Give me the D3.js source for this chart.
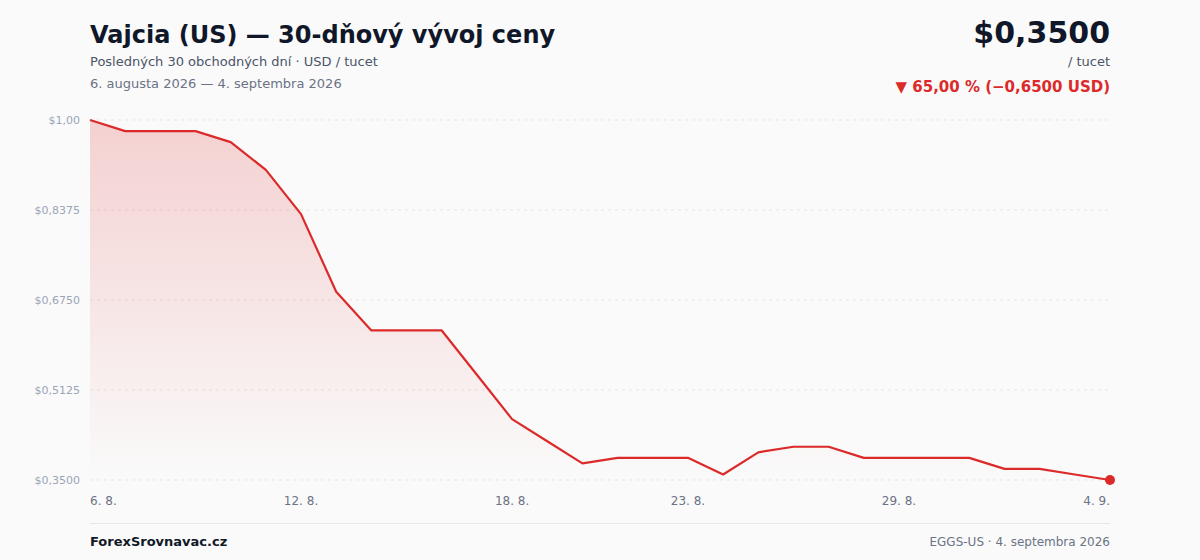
<!DOCTYPE html>
<html>
<head>
<meta charset="utf-8">
<script src="https://cdn.jsdelivr.net/npm/d3@7"></script>
<style>
  html, body { margin: 0; padding: 0; background: #fafafa; }
  svg { display: block; font-family: "DejaVu Sans", sans-serif; }
</style>
</head>
<body>
<svg id="vis" width="1200" height="560"></svg>
<script>
// days shown on the x axis (6. 8. 2026 - 4. 9. 2026)
var days = ["6. 8.","7. 8.","8. 8.","9. 8.","10. 8.","11. 8.","12. 8.","13. 8.","14. 8.","15. 8.",
            "16. 8.","17. 8.","18. 8.","19. 8.","20. 8.","21. 8.","22. 8.","23. 8.","24. 8.","25. 8.",
            "26. 8.","27. 8.","28. 8.","29. 8.","30. 8.","31. 8.","1. 9.","2. 9.","3. 9.","4. 9."];

// price USD / dozen
var prices = [1.00, 0.98, 0.98, 0.98, 0.96, 0.91, 0.83, 0.69, 0.62, 0.62,
              0.62, 0.54, 0.46, 0.42, 0.38, 0.39, 0.39, 0.39, 0.36, 0.40,
              0.41, 0.41, 0.39, 0.39, 0.39, 0.39, 0.37, 0.37, 0.36, 0.35];

var xTickDays = ["6. 8.", "12. 8.", "18. 8.", "23. 8.", "29. 8.", "4. 9."];
var yTicks = [1.00, 0.8375, 0.675, 0.5125, 0.35];
var yTickLabels = ["$1,00", "$0,8375", "$0,6750", "$0,5125", "$0,3500"];

var margin = {t: 120, r: 90, b: 80, l: 90};
var W = 1200, H = 560;
var red = "#dc2a2a";

var svg = d3.select('#vis');
var data = days.map(function (d, i) { return {day: d, value: prices[i]}; });

var x = d3.scalePoint().domain(days).range([margin.l, W - margin.r]);
var y = d3.scaleLinear().domain([0.35, 1.00]).range([H - margin.b, margin.t]);

// gradient for the area under the line
var defs = svg.append('defs');
var grad = defs.append('linearGradient')
    .attr('id', 'areaFill')
    .attr('gradientUnits', 'userSpaceOnUse')
    .attr('x1', 0).attr('x2', 0)
    .attr('y1', y(1.00)).attr('y2', y(0.35));
grad.append('stop').attr('offset', '0%').attr('stop-color', red).attr('stop-opacity', 0.2);
grad.append('stop').attr('offset', '100%').attr('stop-color', red).attr('stop-opacity', 0.0);

// gridlines + y labels
var grid = svg.append('g').attr('class', 'grid');
grid.selectAll('line')
    .data(yTicks)
    .enter().append('line')
    .attr('x1', margin.l)
    .attr('x2', W - margin.r)
    .attr('y1', function (d) { return y(d); })
    .attr('y2', function (d) { return y(d); })
    .attr('stroke', '#e3e5e9')
    .attr('stroke-width', 1)
    .attr('stroke-dasharray', '3,4');

grid.selectAll('text')
    .data(yTicks)
    .enter().append('text')
    .attr('x', margin.l - 10)
    .attr('y', function (d) { return y(d); })
    .attr('dy', '0.35em')
    .style('text-anchor', 'end')
    .style('font-size', '11px')
    .attr('fill', '#9aa5b8')
    .text(function (d, i) { return yTickLabels[i]; });

// area + line
var area = d3.area()
    .x(function (d) { return x(d.day); })
    .y0(y(0.35))
    .y1(function (d) { return y(d.value); });

var line = d3.line()
    .x(function (d) { return x(d.day); })
    .y(function (d) { return y(d.value); });

svg.append('path')
    .datum(data)
    .attr('d', area)
    .attr('fill', 'url(#areaFill)');

svg.append('path')
    .datum(data)
    .attr('d', line)
    .attr('fill', 'none')
    .attr('stroke', red)
    .attr('stroke-width', 2.2)
    .attr('stroke-linejoin', 'round');

var last = data[data.length - 1];
svg.append('circle')
    .attr('cx', x(last.day))
    .attr('cy', y(last.value))
    .attr('r', 5)
    .attr('fill', red);

// x labels
svg.append('g').selectAll('text')
    .data(xTickDays)
    .enter().append('text')
    .attr('x', function (d) { return x(d); })
    .attr('y', 505)
    .style('font-size', '12px')
    .attr('fill', '#6b7385')
    .style('text-anchor', function (d, i) {
        if (i == 0) return 'start';
        else if (i == xTickDays.length - 1) return 'end';
        return 'middle';
    })
    .text(function (d) { return d; });

// header
svg.append('text')
    .attr('x', 90).attr('y', 43)
    .style('font-size', '24px')
    .style('font-weight', 'bold')
    .attr('fill', '#0f1729')
    .text('Vajcia (US) — 30-dňový vývoj ceny');

svg.append('text')
    .attr('x', 90).attr('y', 66)
    .style('font-size', '13px')
    .attr('fill', '#4a5568')
    .text('Posledných 30 obchodných dní · USD / tucet');

svg.append('text')
    .attr('x', 90).attr('y', 88)
    .style('font-size', '13px')
    .attr('fill', '#6b7385')
    .text('6. augusta 2026 — 4. septembra 2026');

svg.append('text')
    .attr('x', 1110).attr('y', 43)
    .style('font-size', '30px')
    .style('font-weight', 'bold')
    .style('text-anchor', 'end')
    .attr('fill', '#0f1729')
    .text('$0,3500');

svg.append('text')
    .attr('x', 1110).attr('y', 66)
    .style('font-size', '13px')
    .style('text-anchor', 'end')
    .attr('fill', '#4a5568')
    .text('/ tucet');

svg.append('text')
    .attr('x', 1110).attr('y', 92)
    .style('font-size', '15px')
    .style('font-weight', 'bold')
    .style('text-anchor', 'end')
    .attr('fill', red)
    .text('▼ 65,00 % (−0,6500 USD)');

// footer
svg.append('line')
    .attr('x1', 90).attr('x2', 1110)
    .attr('y1', 523.5).attr('y2', 523.5)
    .attr('stroke', '#e6e8ec')
    .attr('stroke-width', 1);

svg.append('text')
    .attr('x', 90).attr('y', 546)
    .style('font-size', '13px')
    .style('font-weight', 'bold')
    .attr('fill', '#111827')
    .text('ForexSrovnavac.cz');

svg.append('text')
    .attr('x', 1110).attr('y', 546)
    .style('font-size', '12px')
    .style('text-anchor', 'end')
    .attr('fill', '#6b7385')
    .text('EGGS-US · 4. septembra 2026');
</script>
</body>
</html>
